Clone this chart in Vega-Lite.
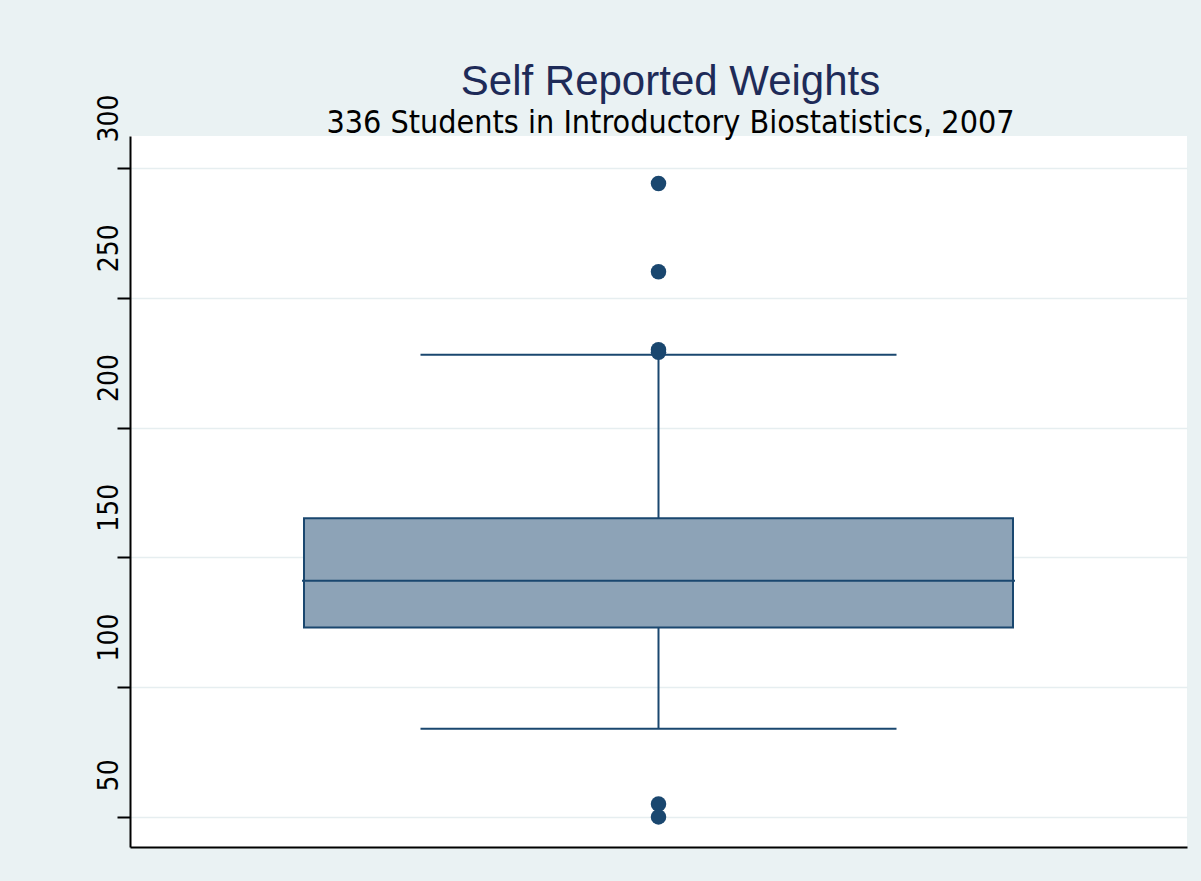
{
  "$schema": "https://vega.github.io/schema/vega-lite/v6.json",
  "width": 1057,
  "height": 711,
  "autosize": {"type": "none"},
  "padding": {"left": 130, "top": 136, "right": 14, "bottom": 34},
  "background": "#eaf2f3",
  "title": {
    "text": "Self Reported Weights",
    "subtitle": "336 Students in Introductory Biostatistics, 2007",
    "anchor": "middle",
    "frame": "group",
    "font": "Liberation Sans",
    "fontSize": 42,
    "fontWeight": "normal",
    "color": "#1e2b58",
    "subtitleFont": "DejaVu Sans Condensed",
    "subtitleFontSize": 32,
    "subtitleColor": "#000000",
    "subtitlePadding": 4,
    "offset": -46,
    "dx": 12
  },
  "datasets": {
    "stats": [
      {"group": "all", "lower": 84, "q1": 123, "median": 141, "q3": 165, "upper": 228}
    ],
    "outliers": [
      {"group": "all", "weight": 294},
      {"group": "all", "weight": 260},
      {"group": "all", "weight": 230},
      {"group": "all", "weight": 229},
      {"group": "all", "weight": 55},
      {"group": "all", "weight": 50}
    ]
  },
  "encoding": {
    "x": {
      "field": "group",
      "type": "nominal",
      "scale": {"type": "band", "paddingInner": 0, "paddingOuter": 0},
      "axis": {"title": null, "labels": false, "ticks": false, "grid": false, "domain": true, "domainColor": "#000000", "domainWidth": 2}
    }
  },
  "layer": [
    {
      "data": {"name": "stats"},
      "mark": {"type": "rule", "color": "#1a476f", "strokeWidth": 2},
      "encoding": {
        "y": {
          "field": "q3",
          "type": "quantitative",
          "scale": {"domain": [38.4, 312.3], "nice": false, "zero": false},
          "axis": {
            "title": null,
            "values": [50, 100, 150, 200, 250, 300],
            "grid": true,
            "gridColor": "#e6eef0",
            "gridWidth": 1.5,
            "domain": true,
            "domainColor": "#000000",
            "domainWidth": 2,
            "ticks": true,
            "tickColor": "#000000",
            "tickSize": 13,
            "tickWidth": 2,
            "labelAngle": -90,
            "labelAlign": "left",
            "labelBaseline": "alphabetic",
            "labelPadding": 0,
            "labelOffset": -26,
            "labelFont": "DejaVu Sans Condensed",
            "labelFontSize": 28,
            "labelColor": "#000000"
          }
        },
        "y2": {"field": "upper"}
      }
    },
    {
      "data": {"name": "stats"},
      "mark": {"type": "rule", "color": "#1a476f", "strokeWidth": 2},
      "encoding": {
        "y": {"field": "lower", "type": "quantitative"},
        "y2": {"field": "q1"}
      }
    },
    {
      "data": {"name": "stats"},
      "mark": {"type": "bar", "size": 709, "fill": "#8da3b7", "stroke": "#1a476f", "strokeWidth": 2},
      "encoding": {
        "y": {"field": "q1", "type": "quantitative"},
        "y2": {"field": "q3"}
      }
    },
    {
      "data": {"name": "stats"},
      "mark": {"type": "tick", "size": 713, "thickness": 2, "color": "#1a476f", "opacity": 1},
      "encoding": {
        "y": {"field": "median", "type": "quantitative"}
      }
    },
    {
      "data": {"name": "stats"},
      "mark": {"type": "tick", "size": 476, "thickness": 2, "color": "#1a476f", "opacity": 1},
      "encoding": {
        "y": {"field": "upper", "type": "quantitative"}
      }
    },
    {
      "data": {"name": "stats"},
      "mark": {"type": "tick", "size": 476, "thickness": 2, "color": "#1a476f", "opacity": 1},
      "encoding": {
        "y": {"field": "lower", "type": "quantitative"}
      }
    },
    {
      "data": {"name": "outliers"},
      "mark": {"type": "circle", "size": 240, "color": "#1a476f", "opacity": 1},
      "encoding": {
        "y": {"field": "weight", "type": "quantitative"}
      }
    }
  ],
  "config": {
    "view": {"fill": "#ffffff", "stroke": null}
  }
}
